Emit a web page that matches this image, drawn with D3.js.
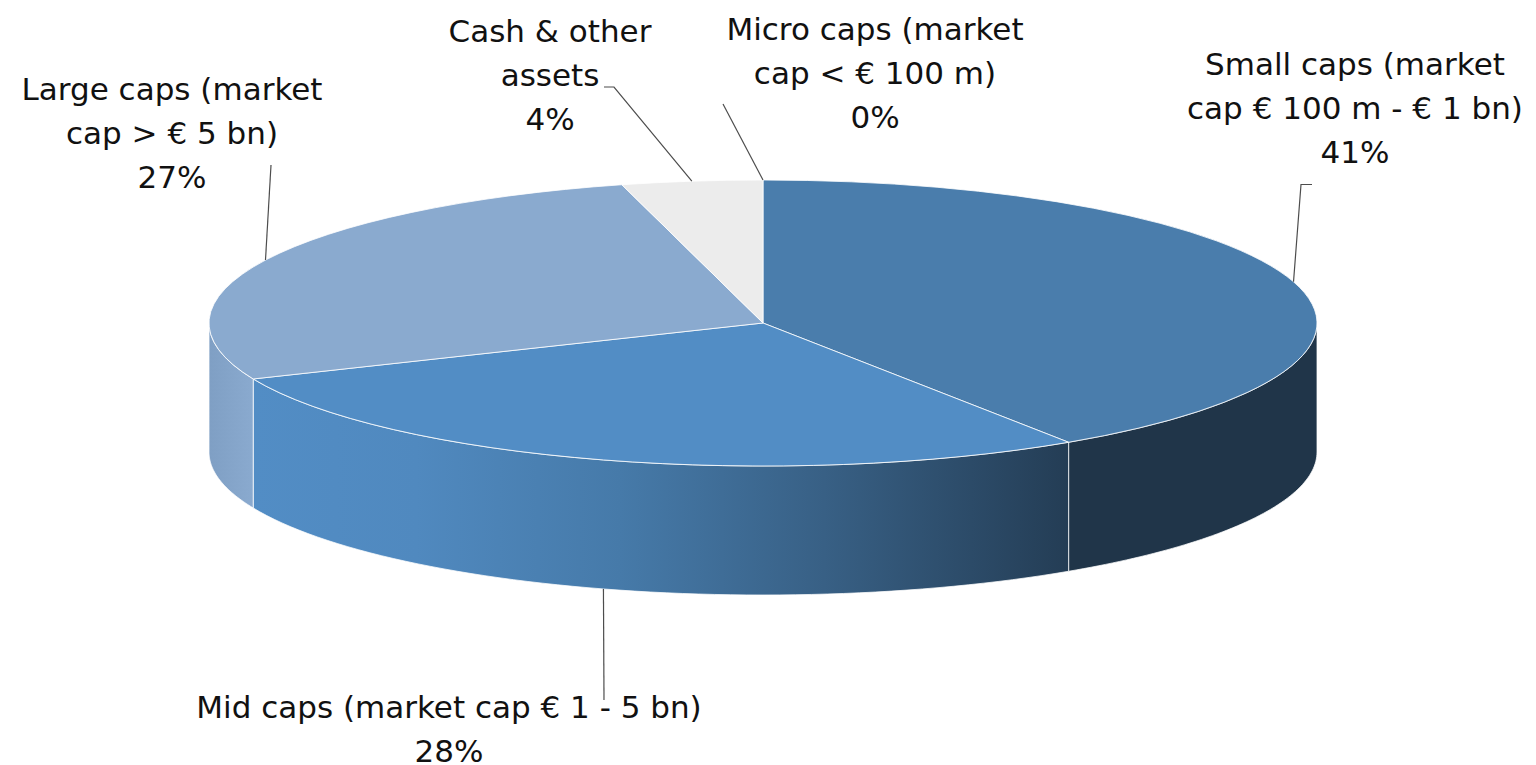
<!DOCTYPE html>
<html>
<head>
<meta charset="utf-8">
<script src="https://cdn.jsdelivr.net/npm/d3@7"></script>
<style>
  body { margin: 0; background: #fff; }
  svg { display: block; }
  text { font-family: "DejaVu Sans", sans-serif; font-size: 31px; fill: #111; text-anchor: middle; }
</style>
</head>
<body>
<svg id="chart"></svg>
<script>
// Data, order is clockwise from 12 o'clock
const categories = ["Micro caps", "Small caps", "Mid caps", "Large caps", "Cash"];
const shares = [0, 40.7, 27.9, 27.3, 4.1];
const labelLines = [
  ["Micro caps (market", "cap < € 100 m)"],
  ["Small caps (market", "cap € 100 m - € 1 bn)"],
  ["Mid caps (market cap € 1 - 5 bn)"],
  ["Large caps (market", "cap > € 5 bn)"],
  ["Cash & other", "assets"]
];

// Layout
const width = 1536, height = 765;
const cx = 763, cy = 323; // centre of top face
const rx = 554, ry = 143, depth = 129;

const topColors = ["#4a7dac", "#4a7dac", "#528dc5", "#8aaacf", "#ececec"];
const labelX = [875, 1355, 449, 172, 550];
const labelY = [40, 75, 718, 100, 42]; // first baseline
const lineGap = 44;
// elbow points of the leader lines, the last point is computed from the slice
const leaderStart = [[723, 104]], leaderElbows = [
  [[723, 104]],
  [[1312, 184.5], [1301, 184.5]],
  [[604, 700]],
  [[271, 165]],
  [[604, 87], [614, 87]]
];

const svg = d3.select("#chart").attr("width", width).attr("height", height);

const defs = svg.append("defs");
const midGrad = defs.append("linearGradient").attr("id", "midSide");
[[0, "#528dc5"], [0.2, "#5089bf"], [0.45, "#467aa9"], [0.7, "#386085"], [1, "#243d55"]]
  .forEach(s => midGrad.append("stop").attr("offset", s[0]).attr("stop-color", s[1]));
const largeGrad = defs.append("linearGradient").attr("id", "largeSide");
[[0, "#7f9fc4"], [1, "#8aaacf"]]
  .forEach(s => largeGrad.append("stop").attr("offset", s[0]).attr("stop-color", s[1]));

const sideFills = [null, "#203549", "url(#midSide)", "url(#largeSide)", null];

const pie = d3.pie().sort(null).value(d => d);
const arcs = pie(shares);

// angle is clockwise from top, like d3.pie
const px = a => cx + rx * Math.sin(a);
const py = a => cy - ry * Math.cos(a);

const line = d3.line();

// front walls, only the part between 3 and 9 o'clock can be seen
arcs.forEach((d, i) => {
  const a0 = Math.max(d.startAngle, Math.PI / 2);
  const a1 = Math.min(d.endAngle, Math.PI * 1.5);
  if (a1 <= a0) return;
  const steps = d3.range(0, 61).map(k => a0 + (a1 - a0) * k / 60);
  const upper = steps.map(a => [px(a), py(a)]);
  const lower = steps.slice().reverse().map(a => [px(a), py(a) + depth]);
  svg.append("path")
    .attr("d", line(upper.concat(lower)) + "Z")
    .attr("fill", sideFills[i])
    .attr("stroke", "#fff")
    .attr("stroke-opacity", 0.75)
    .attr("stroke-width", 1);
});

// top face
const arc = d3.arc().innerRadius(0).outerRadius(rx);
svg.append("g")
  .attr("transform", `translate(${cx},${cy}) scale(1,${ry / rx})`)
  .selectAll("path")
  .data(arcs)
  .join("path")
  .attr("d", arc)
  .attr("fill", (d, i) => topColors[i])
  .attr("stroke", "#fff")
  .attr("stroke-opacity", 0.8)
  .attr("stroke-width", 1)
  .attr("vector-effect", "non-scaling-stroke");

// leader lines
arcs.forEach((d, i) => {
  const mid = (d.startAngle + d.endAngle) / 2;
  // walls are in front, so a lower-half slice has its leader at the bottom edge
  const frontSide = Math.cos(mid) < 0;
  const end = [px(mid), py(mid) + (frontSide ? depth : 0)];
  svg.append("path")
    .attr("d", line(leaderElbows[i].concat([end])))
    .attr("fill", "none")
    .attr("stroke", "#4d4d4d")
    .attr("stroke-width", 1.2);
});

// labels
const pct = d3.format(".0f");
categories.forEach((c, i) => {
  const lines = labelLines[i].concat(pct(shares[i]) + "%");
  const t = svg.append("text").attr("class", "label");
  lines.forEach((l, k) => {
    t.append("tspan")
      .attr("x", labelX[i])
      .attr("y", labelY[i] + k * lineGap)
      .text(l);
  });
});
</script>
</body>
</html>
